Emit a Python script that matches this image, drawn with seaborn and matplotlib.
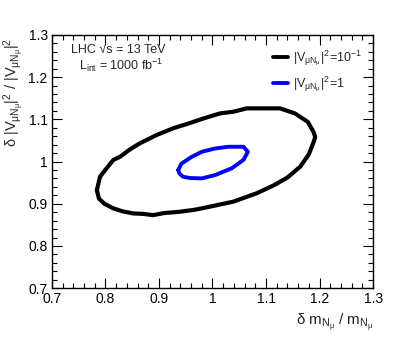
import numpy as np
import pandas as pd
import matplotlib
matplotlib.use('Agg')
import matplotlib.pyplot as plt
from matplotlib.ticker import MultipleLocator, FixedLocator, FixedFormatter
from matplotlib.lines import Line2D
import seaborn as sns

# ---- contour data ----
black_x = [0.784, 0.790, 0.802, 0.815, 0.827, 0.845, 0.864, 0.896, 0.927, 0.955, 0.983,
           1.014, 1.039, 1.064, 1.095, 1.126, 1.154, 1.178, 1.188, 1.192, 1.188, 1.180,
           1.164, 1.140, 1.115, 1.083, 1.039, 0.995, 0.968, 0.939, 0.910, 0.889, 0.870,
           0.852, 0.832, 0.815, 0.798, 0.788]
black_y = [0.932, 0.964, 0.984, 1.004, 1.011, 1.028, 1.043, 1.063, 1.079, 1.090, 1.102,
           1.114, 1.118, 1.126, 1.126, 1.126, 1.114, 1.094, 1.072, 1.058, 1.043, 1.017,
           0.988, 0.962, 0.944, 0.925, 0.905, 0.893, 0.886, 0.881, 0.878, 0.873, 0.876,
           0.877, 0.882, 0.889, 0.900, 0.912]

blue_x = [0.936, 0.942, 0.961, 0.980, 1.005, 1.030, 1.058, 1.066, 1.058, 1.036,
          1.005, 0.980, 0.958, 0.945, 0.938]
blue_y = [0.980, 0.995, 1.011, 1.023, 1.031, 1.035, 1.035, 1.023, 1.004, 0.984,
          0.968, 0.960, 0.961, 0.964, 0.972]

labels = [r'$|V_{\mu N_{\mu}}|^{2}\!=\!10^{-1}$', r'$|V_{\mu N_{\mu}}|^{2}\!=\!1$']
colors = ['black', '#0000ff']

tick_vals = [0.7, 0.8, 0.9, 1.0, 1.1, 1.2, 1.3]
tick_text = ['0.7', '0.8', '0.9', '1', '1.1', '1.2', '1.3']

# ---- style ----
sns.set_theme(style='ticks')
plt.rcParams['font.family'] = ['Liberation Sans', 'DejaVu Sans']
plt.rcParams['mathtext.fontset'] = 'custom'
plt.rcParams['mathtext.rm'] = 'Liberation Sans'
plt.rcParams['mathtext.it'] = 'Liberation Sans'
plt.rcParams['mathtext.bf'] = 'Liberation Sans'

def closed(xs, ys):
    return pd.DataFrame({'x': list(xs) + [xs[0]], 'y': list(ys) + [ys[0]]})

fig = plt.figure(figsize=(4.15, 3.39), dpi=100)
ax = fig.add_axes([0.125, 0.150, 0.774, 0.747])

sns.lineplot(data=closed(black_x, black_y), x='x', y='y', sort=False, estimator=None,
             color=colors[0], lw=3.0, ax=ax)
sns.lineplot(data=closed(blue_x, blue_y), x='x', y='y', sort=False, estimator=None,
             color=colors[1], lw=2.8, ax=ax)

ax.set_xlim(0.7, 1.3)
ax.set_ylim(0.7, 1.3)
for axis in (ax.xaxis, ax.yaxis):
    axis.set_major_locator(FixedLocator(tick_vals))
    axis.set_major_formatter(FixedFormatter(tick_text))
    axis.set_minor_locator(MultipleLocator(0.02))
ax.tick_params(which='both', direction='in', top=True, right=True, colors='black',
               labelsize=10, width=0.8)
ax.tick_params(which='major', length=7, pad=3)
ax.tick_params(which='minor', length=3.5)
for sp in ax.spines.values():
    sp.set_linewidth(1.0)
    sp.set_color('black')

ax.set_xlabel(r'$\delta$ m$_{N_{\mu}}$ / m$_{N_{\mu}}$', fontsize=11, loc='right')
ax.set_ylabel(r'$\delta$ |V$_{\mu N_{\mu}}$|$^{2}$ / |V$_{\mu N_{\mu}}$|$^{2}$',
              fontsize=10.5, loc='top')
ax.yaxis.set_label_coords(-0.078, 0.99)

ax.text(0.06, 0.94, 'LHC \u221as = 13 TeV', transform=ax.transAxes, fontsize=9,
        va='center', ha='left')
ax.text(0.085, 0.88, r'L$_{\mathrm{int}}$ = 1000 fb$^{-1}$', transform=ax.transAxes, fontsize=9,
        va='center', ha='left')

handles = [Line2D([], [], color=c, lw=2.8) for c in colors]
ax.legend(handles, labels, loc='upper right', bbox_to_anchor=(1.0, 0.99), frameon=False,
          fontsize=9, handlelength=1.2, handletextpad=0.4, labelspacing=0.5)

fig.savefig('out.png', dpi=100, facecolor='white')
